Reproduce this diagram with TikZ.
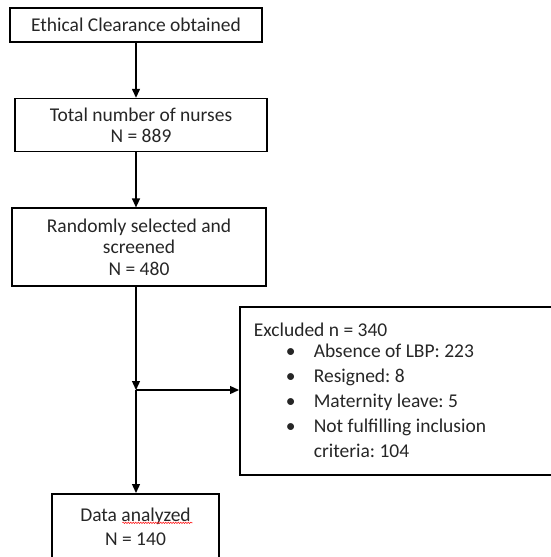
\documentclass[tikz,border=0pt]{standalone}
\usepackage{fontspec}
\setmainfont{Carlito}
\frenchspacing
\usetikzlibrary{positioning, arrows.meta, decorations.pathmorphing}
\tikzstyle{stepbox} = [rectangle, minimum width=252pt, minimum height=34pt, text centered, align=center, draw=black, line width=1.6pt, inner sep=0pt, font=\fontsize{19.5}{21.5}\selectfont, text=black!85]
\tikzstyle{exclbox} = [rectangle, minimum width=330pt, minimum height=168pt, text width=302pt, align=flush left, draw=black, line width=1.6pt, inner xsep=14pt, inner ysep=0pt, font=\fontsize{19.5}{25}\selectfont, text=black!85]
\tikzstyle{arrow} = [line width=1.3pt, -{Triangle[length=9pt, width=8pt]}]
\newcommand{\bulletitem}[1]{\hspace*{32pt}\makebox[28pt][l]{\textbullet}#1}

\begin{document}
\begin{tikzpicture}
		\clip (0pt,0pt) rectangle (551pt,-557pt);
		\useasboundingbox (0pt,0pt) rectangle (551pt,-557pt);
		\node (ethics) [stepbox] at (136pt,-25pt) {Ethical Clearance obtained};
		\node (total) [stepbox, minimum height=53pt, below=55pt of ethics, xshift=5pt] {Total number of nurses\\N = 889};
		\node (screen) [stepbox, minimum width=254pt, minimum height=78pt, below=55pt of total, xshift=-2pt] {Randomly selected and\\screened\\N = 480};
		\coordinate (split) at (136pt,-390pt);
		\node (excluded) [exclbox, anchor=north west] at (239pt,-306pt) {Excluded n = 340\\[-4pt]
			\bulletitem{Absence of LBP: 223}\\
			\bulletitem{Resigned: 8}\\
			\bulletitem{Maternity leave: 5}\\
			\bulletitem{Not fulfilling inclusion}\\
			\hspace*{60pt}criteria: 104};
		\node (data) [stepbox, minimum width=167pt, minimum height=66pt, anchor=north] at (135.5pt,-493pt) {Data analyzed\\[2pt]N = 140};
		\draw [arrow] (ethics.south -| split) -- (total.north -| split);
		\draw [arrow] (total.south -| split) -- (screen.north -| split);
		\draw [arrow] (screen.south -| split) -- (split);
		\draw [arrow] (split) -- (excluded.west |- split);
		\draw [arrow] (split) -- (data.north -| split);
		% spell-check mark under the second word
		\draw [red, line width=0.5pt, decorate, decoration={snake, amplitude=0.7pt, segment length=2.5pt}] ([xshift=-13pt, yshift=4pt]data.center) -- ([xshift=57pt, yshift=4pt]data.center);
	\end{tikzpicture}
\end{document}
